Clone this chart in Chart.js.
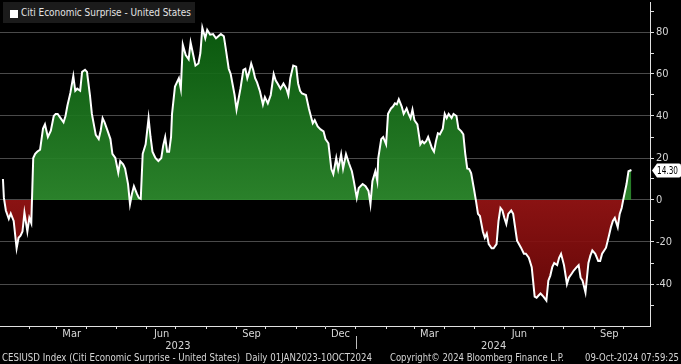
<!DOCTYPE html>
<html lang="en">
<head>
    <meta charset="UTF-8">
    <title>Citi Economic Surprise - United States</title>
    <style>
        body {
            margin: 0;
            background: #000;
        }
        #wrap {
            position: relative;
            width: 681px;
            height: 364px;
            overflow: hidden;
        }
        canvas {
            display: block;
        }
        .txt {
            position: absolute;
            font-family: 'Liberation Sans Narrow', 'DejaVu Sans Condensed', 'Liberation Sans', sans-serif;
            font-size: 11px;
            line-height: 11px;
            color: #d6d6d6;
            white-space: nowrap;
            transform-origin: 0 0;
        }
        .legend {
            position: absolute;
            left: 3px;
            top: 2px;
            width: 192px;
            height: 21px;
            background: #1b1b1b;
        }
        .sq {
            position: absolute;
            left: 10px;
            top: 10px;
            width: 8px;
            height: 8px;
            background: #fff;
        }
    </style>
</head>
<body>
<div id="wrap">
    <canvas id="myChart" width="681" height="364"></canvas>
    <div class="legend"></div>
    <div class="sq"></div>
    <div class="txt" style="left:21px;top:7px;color:#e4e4e4" data-w="170">Citi Economic Surprise - United States</div>
    <div class="txt" style="left:2px;top:352px" data-w="370">CESIUSD Index (Citi Economic Surprise - United States)&nbsp; Daily 01JAN2023-10OCT2024</div>
    <div class="txt" style="left:390px;top:352px" data-w="174">Copyright© 2024 Bloomberg Finance L.P.</div>
    <div class="txt" style="left:585px;top:352px" data-w="94">09-Oct-2024 07:59:25</div>
</div>

<script src="https://cdn.jsdelivr.net/npm/chart.js"></script>
<script>
    // days counted from 01-Jan-2023
    const days = [
        4, 5, 7, 10, 12, 15, 18, 20, 22, 24, 26, 29, 31, 33, 35, 37, 39, 42, 45, 47,
        50, 53, 56, 58, 60, 63, 66, 68, 70, 73, 76, 78, 80, 83, 85, 88, 90, 93, 95, 99,
        102, 104, 106, 108, 111, 114, 116, 119, 122, 124, 127, 129, 132, 134, 136, 138, 141, 143, 145, 147,
        150, 153, 155, 157, 160, 163, 166, 168, 170, 172, 174, 176, 177, 180, 184, 186, 188, 191, 194, 196,
        198, 201, 204, 206, 208, 211, 213, 216, 219, 222, 227, 230, 232, 235, 237, 239, 241, 243, 245, 247,
        250, 252, 254, 256, 258, 260, 262, 264, 267, 270, 272, 275, 278, 281, 283, 285, 288, 291, 294, 296,
        298, 301, 304, 306, 308, 310, 314, 317, 319, 321, 323, 326, 329, 332, 334, 337, 340, 342, 345, 347,
        350, 352, 355, 358, 361, 363, 366, 368, 372, 375, 378, 380, 382, 385, 387, 388, 391, 393, 396, 398,
        401, 403, 405, 407, 409, 412, 414, 417, 419, 421, 423, 425, 428, 431, 433, 435, 437, 439, 443, 445,
        447, 449, 451, 454, 456, 458, 460, 463, 465, 468, 470, 473, 475, 477, 479, 481, 483, 486, 488, 490,
        492, 495, 497, 499, 501, 504, 506, 509, 511, 513, 515, 517, 519, 521, 524, 526, 528, 530, 534, 537,
        539, 542, 545, 548, 550, 552, 554, 557, 560, 562, 564, 566, 568, 571, 573, 575, 578, 581, 583, 586,
        588, 591, 593, 595, 597, 600, 603, 605, 607, 610, 613, 615, 617, 621, 624, 626, 628, 630, 633, 635,
        637, 639, 642, 644, 647
    ];
    const values = [
        10, 1, -5, -9, -6.5, -10, -23, -18, -17, -15, -6, -15, -8.5, -11, 20, 22, 23, 24, 34, 36,
        30, 33, 40, 41, 41, 39, 37, 40, 45, 51, 59, 52, 53, 52, 61, 62, 61, 50, 41, 31,
        29, 33, 39, 37, 33, 29, 22, 20, 13, 18.5, 17, 15, 7.6, -2, 3, 6.6, 3, 1, 0.5, 22,
        26.5, 39, 30, 23, 20, 18.5, 20, 26, 30, 23, 23, 30, 41, 54, 58, 53, 74, 69, 67, 75,
        70.6, 64, 65, 70, 82, 77, 81, 78.7, 79, 77, 79, 78, 72, 62.5, 60, 55, 50, 43, 48, 53,
        62, 62.5, 58, 61, 65, 62, 58, 56, 51.7, 45.5, 49, 46, 50, 60, 57, 55.5, 53, 55.5, 53, 50,
        58, 64, 63.5, 55.5, 52, 50.7, 50, 43.6, 40, 36.5, 38, 35, 33.6, 32.7, 29, 27, 14.7, 12.3, 20, 14.7,
        21.8, 15, 21.8, 17.5, 13.7, 9, 1, 5.7, 7.6, 6.6, 4.3, -2, 9, 13.7, 9, 20, 29, 30, 26.5, 41,
        43.6, 44.5, 46, 45.5, 48, 44.5, 41, 43.6, 41, 39, 43, 38, 36, 26.5, 28, 27, 28, 30, 24.6, 23,
        28, 31.8, 31.3, 34, 41, 39, 41, 39, 41, 40, 34, 32.7, 31.3, 22, 15, 14.7, 12.8, 5, -0.5, -6.6,
        -7.6, -15, -18, -16, -21, -23, -23, -21, -10, -3.8, -5, -8.5, -11.4, -6.6, -5, -6.6, -13, -19.4, -22.7, -25.6,
        -25.6, -27.5, -32, -46, -46.5, -45.5, -44.5, -46, -47.9, -38.4, -36, -32, -30, -31, -27.5, -25.6, -31, -40, -37, -35,
        -33.6, -32, -31, -37, -38.4, -44, -30, -26.5, -24, -25.6, -29, -29, -25.6, -22.7, -17, -13, -10, -8.5, -13, -6.6,
        -3.8, 1, 7.6, 13.7, 14.30
    ];

    // month boundaries (Feb 2023 .. Oct 2024) and their labels
    const monthStarts = [31, 59, 90, 120, 151, 181, 212, 243, 273, 304, 334, 365, 396, 425, 456, 486, 517, 547, 578, 609, 639];
    const monthLabels = ['', 'Mar', '', '', 'Jun', '', '', 'Sep', '', '', 'Dec', '', '', 'Mar', '', '', 'Jun', '', '', 'Sep', ''];
    const yearPos = [183, 506];
    const yearLabels = ['2023', '2024'];
    const yearBreak = 365;
    const yTicks = [-50, -40, -30, -20, -10, 0, 10, 20, 30, 40, 50, 60, 70, 80, 90];

    const FONT = "'Liberation Sans Narrow', 'DejaVu Sans Condensed', 'Liberation Sans', sans-serif";
    const TXT = '#d6d6d6';
    const AXIS = '#e0e0e0';

    // last value tag + year separator
    const extras = {
        id: 'extras',
        afterDraw(chart) {
            const ctx = chart.ctx;
            const y = chart.scales.y;
            const x = chart.scales.x;
            const yc = Math.round(y.getPixelForValue(values[values.length - 1])) + 0.5;
            const left = chart.chartArea.right + 2;
            ctx.save();
            ctx.fillStyle = '#fff';
            ctx.beginPath();
            ctx.moveTo(left, yc);
            ctx.lineTo(left + 5, yc - 7);
            ctx.lineTo(679, yc - 7);
            ctx.quadraticCurveTo(681, yc - 7, 681, yc - 5);
            ctx.lineTo(681, yc + 5);
            ctx.quadraticCurveTo(681, yc + 7, 679, yc + 7);
            ctx.lineTo(left + 5, yc + 7);
            ctx.closePath();
            ctx.fill();

            const label = values[values.length - 1].toFixed(2);
            ctx.fillStyle = '#000';
            ctx.font = '11px ' + FONT;
            ctx.textAlign = 'left';
            ctx.textBaseline = 'middle';
            const w = ctx.measureText(label).width;
            ctx.translate(657, yc + 1);
            ctx.scale(21 / w, 1);
            ctx.fillText(label, 0, 0);
            ctx.setTransform(1, 0, 0, 1, 0, 0);

            const bx = Math.round(x.getPixelForValue(yearBreak)) + 0.5;
            ctx.strokeStyle = '#bdbdbd';
            ctx.lineWidth = 1;
            ctx.beginPath();
            ctx.moveTo(bx, chart.chartArea.bottom + 10);
            ctx.lineTo(bx, chart.chartArea.bottom + 23);
            ctx.stroke();
            ctx.restore();
        }
    };

    const ctx = document.getElementById('myChart').getContext('2d');
    const chart = new Chart(ctx, {
        type: 'line',
        data: {
            datasets: [{
                label: 'Citi Economic Surprise - United States',
                data: days.map((d, i) => ({ x: d, y: values[i] })),
                borderColor: '#ffffff',
                borderWidth: 2,
                pointRadius: 0,
                tension: 0,
                fill: 'origin',
                backgroundColor: 'rgba(40,130,40,0.9)'
            }]
        },
        options: {
            responsive: false,
            animation: false,
            events: [],
            layout: { autoPadding: false, padding: { left: 0, right: 0, top: 0, bottom: 12 } },
            plugins: {
                legend: { display: false },
                tooltip: { enabled: false }
            },
            scales: {
                x: {
                    type: 'linear',
                    position: 'bottom',
                    min: 1,
                    max: 666,
                    afterBuildTicks: s => { s.ticks = monthStarts.map(v => ({ value: v })); },
                    afterFit: s => { s.height = 14; },
                    ticks: {
                        autoSkip: false,
                        maxRotation: 0,
                        labelOffset: 15,
                        padding: -1,
                        color: TXT,
                        font: { size: 11, family: FONT },
                        callback: (v, i) => monthLabels[i]
                    },
                    grid: { display: true, drawOnChartArea: false, tickLength: 3, tickColor: AXIS },
                    border: { display: true, color: AXIS, width: 1 }
                },
                xYear: {
                    type: 'linear',
                    position: 'bottom',
                    min: 1,
                    max: 666,
                    afterBuildTicks: s => { s.ticks = yearPos.map(v => ({ value: v })); },
                    afterFit: s => { s.height = 12; },
                    ticks: {
                        autoSkip: false,
                        maxRotation: 0,
                        padding: 0,
                        color: TXT,
                        font: { size: 11, family: FONT },
                        callback: (v, i) => yearLabels[i]
                    },
                    grid: { display: false, drawTicks: false },
                    border: { display: false }
                },
                y: {
                    position: 'right',
                    min: -60,
                    max: 94,
                    afterBuildTicks: s => { s.ticks = yTicks.map(v => ({ value: v })); },
                    afterFit: s => { s.width = 31; },
                    ticks: {
                        padding: 2,
                        color: TXT,
                        // minor ticks get a tiny font so the top one does not push the plot down
                        font: c => ({ size: c.tick && c.tick.value % 20 === 0 ? 11 : 1, family: FONT }),
                        callback: v => (v % 20 === 0 ? String(v) : '')
                    },
                    grid: {
                        color: c => (c.tick && c.tick.value % 20 === 0 ? '#4a4a4a' : 'rgba(0,0,0,0)'),
                        tickColor: AXIS,
                        tickLength: 4
                    },
                    border: { display: true, color: AXIS, width: 1 }
                }
            }
        },
        plugins: [extras]
    });

    // green above zero, red below, darker further from zero
    const ys = chart.scales.y;
    const zero = ys.getPixelForValue(0);
    const green = ctx.createLinearGradient(0, ys.getPixelForValue(80), 0, zero);
    green.addColorStop(0, 'rgba(12,96,16,0.92)');
    green.addColorStop(1, 'rgba(46,140,46,0.92)');
    const red = ctx.createLinearGradient(0, zero, 0, ys.getPixelForValue(-50));
    red.addColorStop(0, 'rgba(150,20,20,0.92)');
    red.addColorStop(1, 'rgba(108,8,8,0.92)');
    chart.data.datasets[0].fill = { target: 'origin', above: green, below: red };
    chart.update('none');

    // squeeze html texts to the widths of the original
    document.querySelectorAll('[data-w]').forEach(el => {
        const w = el.getBoundingClientRect().width;
        el.style.transform = `scaleX(${el.dataset.w / w})`;
    });
</script>
</body>
</html>
